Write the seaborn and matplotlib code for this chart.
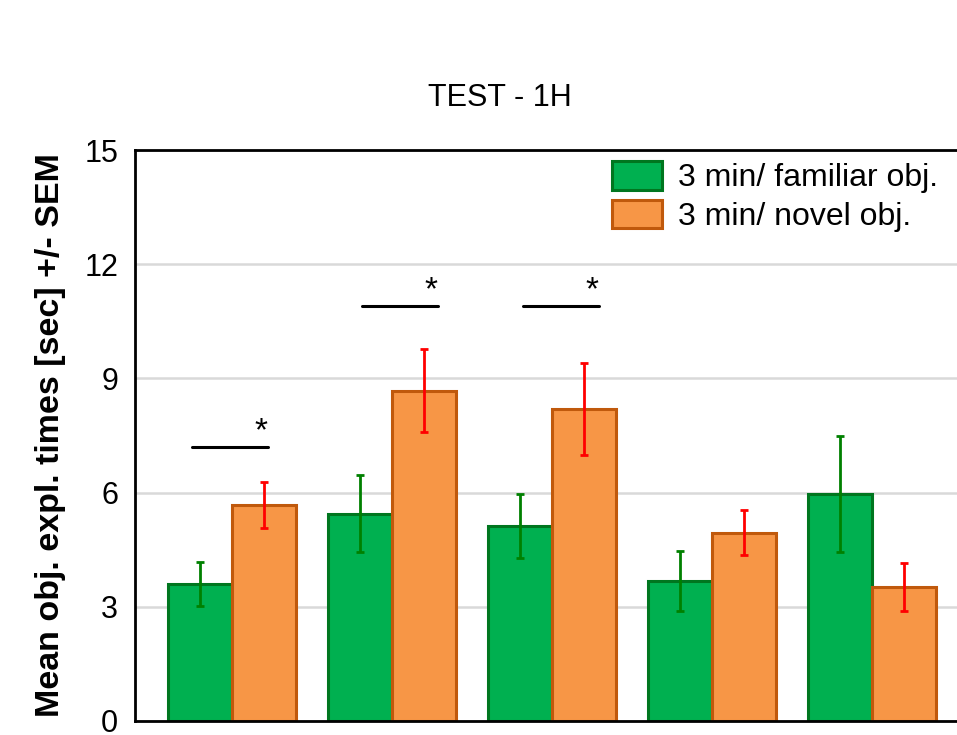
import numpy as np
import pandas as pd
import matplotlib
matplotlib.use("Agg")
import matplotlib.pyplot as plt
import seaborn as sns

sns.set_style("white")
plt.rcParams['font.family'] = ['Liberation Sans', 'DejaVu Sans']
plt.rcParams['text.color'] = 'black'
plt.rcParams['axes.labelcolor'] = 'black'
plt.rcParams['ytick.color'] = 'black'

groups = ["G1", "G2", "G3", "G4", "G5"]
series = ["3 min/ familiar obj.", "3 min/ novel obj."]
familiar_mean = [3.6, 5.45, 5.12, 3.68, 5.97]
familiar_sem = [0.58, 1.0, 0.85, 0.78, 1.53]
novel_mean = [5.67, 8.68, 8.2, 4.95, 3.52]
novel_sem = [0.6, 1.1, 1.2, 0.6, 0.63]
sig_groups = [0, 1, 2]
sig_heights = [7.2, 10.9, 10.9]

face_colors = ["#00B050", "#F79646"]
edge_colors = ["#00761F", "#C0590C"]
err_colors = ["#008000", "#FF0000"]

df = pd.DataFrame({
    "group": groups * 2,
    "series": [series[0]] * len(groups) + [series[1]] * len(groups),
    "value": familiar_mean + novel_mean,
})

fig = plt.figure(figsize=(9.57, 7.35), dpi=100)
ax = fig.add_axes([135/957, 14/735, (969-135)/957, (721-150)/735])

sns.barplot(data=df, x="group", y="value", hue="series", palette=face_colors,
            errorbar=None, width=0.8, gap=0, saturation=1, ax=ax, zorder=2)

means = [familiar_mean, novel_mean]
sems = [familiar_sem, novel_sem]
bar_conts = list(ax.containers)
for k, cont in enumerate(bar_conts):
    xs = []
    for p in cont.patches:
        p.set_edgecolor(edge_colors[k])
        p.set_linewidth(2.2)
        xs.append(p.get_x() + p.get_width() / 2)
    ax.errorbar(xs, means[k], yerr=sems[k], fmt="none", ecolor=err_colors[k],
                elinewidth=2, capsize=3, capthick=2, zorder=3)

# significance markers
pos = [p.get_x() for p in bar_conts[0].patches]
w = bar_conts[0].patches[0].get_width()
line_start = [0.375, 0.53, 0.55]
for g, h, s in zip(sig_groups, sig_heights, line_start):
    left = pos[g] + w * s
    right = left + w * 1.1875
    ax.plot([left, right], [h, h], color="black", lw=2.2, zorder=3)
    ax.text(left + w * 1.08, h + 0.0, "*", ha="center", va="bottom", fontsize=24)

ax.set_xlim(-0.606, 4.606)
ax.set_ylim(0, 15)
ax.set_yticks([0, 3, 6, 9, 12, 15])
ax.set_yticklabels(["0", "3", "6", "9", "12", "15"], fontsize=22)
ax.set_xticks([])
ax.set_xlabel("")
ax.set_ylabel("Mean obj. expl. times [sec] +/- SEM", fontsize=24.5, fontweight="bold", labelpad=13)
ax.yaxis.grid(True, color="#D9D9D9", lw=1.8, zorder=0)
ax.set_axisbelow(True)
ax.tick_params(axis="y", direction="in", length=6, width=2, pad=12)
for s in ax.spines.values():
    s.set_linewidth(2)
    s.set_color("black")

leg = ax.legend(loc="upper left", bbox_to_anchor=(612/957, 1 - 161/735),
                bbox_transform=fig.transFigure, frameon=False, fontsize=23,
                handlelength=1.56, handleheight=1.0, handletextpad=0.5,
                labelspacing=0.2, borderpad=0, borderaxespad=0)
for h, ec in zip(leg.legend_handles, edge_colors):
    h.set_edgecolor(ec)
    h.set_linewidth(2.2)

fig.text(500/957, 1 - 98/735, "TEST - 1H", ha="center", va="center", fontsize=22)

fig.savefig("out.png", dpi=100)
